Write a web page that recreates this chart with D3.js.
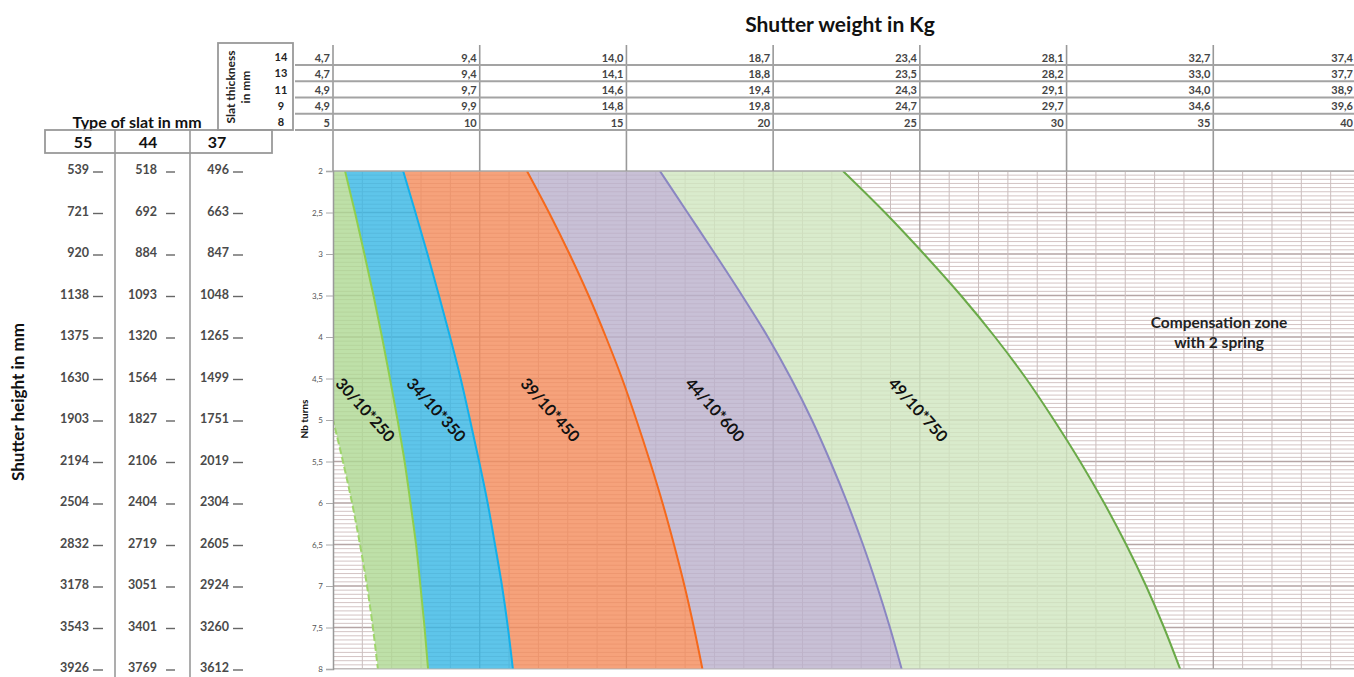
<!DOCTYPE html>
<html><head><meta charset="utf-8">
<script src="https://cdn.jsdelivr.net/npm/d3@7"></script>
<style>
body{margin:0;background:#fff;}
svg{display:block;}
text{font-family:Lato,"Open Sans",sans-serif;}
</style>
</head><body>
<svg id="c" width="1354" height="677"></svg>
<script>
// ---------- data ----------
const turns = [2,2.5,3,3.5,4,4.5,5,5.5,6,6.5,7,7.5,8];
const turnLabels = ["2","2,5","3","3,5","4","4,5","5","5,5","6","6,5","7","7,5","8"];
const slatTypes = ["55","44","37"];
const height55 = [539,721,920,1138,1375,1630,1903,2194,2504,2832,3178,3543,3926];
const height44 = [518,692,884,1093,1320,1564,1827,2106,2404,2719,3051,3401,3769];
const height37 = [496,663,847,1048,1265,1499,1751,2019,2304,2605,2924,3260,3612];
const thicknesses = ["14","13","11","9","8"];
const weightCols = [5,10,15,20,25,30,35,40];
const weight14 = ["4,7","9,4","14,0","18,7","23,4","28,1","32,7","37,4"];
const weight13 = ["4,7","9,4","14,1","18,8","23,5","28,2","33,0","37,7"];
const weight11 = ["4,9","9,7","14,6","19,4","24,3","29,1","34,0","38,9"];
const weight9  = ["4,9","9,9","14,8","19,8","24,7","29,7","34,6","39,6"];
const weight8  = ["5","10","15","20","25","30","35","40"];
const springs = ["30/10*250","34/10*350","39/10*450","44/10*600","49/10*750"];
// boundary curves: shutter weight (kg, 8 mm row) at each number of turns
const boundMin = [2.24,2.79,3.30,3.77,4.22,4.63,5.00,5.34,5.65,5.92,6.16,6.36,6.53];
const bound250 = [5.41,5.75,6.07,6.38,6.67,6.94,7.20,7.44,7.64,7.83,7.98,8.12,8.24];
const bound350 = [7.39,7.81,8.22,8.61,8.99,9.35,9.67,9.98,10.27,10.52,10.76,10.96,11.13];
const bound450 = [11.61,12.36,13.06,13.71,14.30,14.85,15.34,15.80,16.23,16.62,16.98,17.30,17.59];
const bound600 = [16.14,17.08,18.02,18.94,19.82,20.61,21.32,21.95,22.53,23.06,23.54,23.98,24.38];
const bound750 = [22.38,23.81,25.14,26.40,27.56,28.62,29.57,30.46,31.28,32.03,32.71,33.32,33.87];
const labelKg = [6.06,8.48,12.36,17.98,24.9];
const labelTurns = 4.89;

// ---------- styles ----------
const fills   = ["#aed892","#36b7e5","#f48b5a","#bab0cc","#d0e6bf"];
const strokes = ["#8fcf4e","#14b0ea","#f5691c","#8a86c2","#6aaa48"];

const svg = d3.select("#c");
const x = d3.scaleLinear().domain([5,40]).range([333,1360]);
const y = d3.scaleLinear().domain([2,8]).range([171,669]);
const plotL = 333, plotR = 1354, plotT = 171, plotB = 669;

svg.append("defs").append("clipPath").attr("id","clip")
  .append("rect").attr("x",plotL).attr("y",plotT).attr("width",plotR-plotL).attr("height",plotB-plotT);

const bounds = [boundMin,bound250,bound350,bound450,bound600,bound750];
const gPlot = svg.append("g").attr("clip-path","url(#clip)");

// grid (under semi-transparent fills)
const gGrid = gPlot.append("g");
for(let k=0;k<=120;k++){
  const t = 2 + k*0.05;
  const major = k%10===0;
  gGrid.append("line").attr("x1",plotL).attr("x2",plotR).attr("y1",y(t)).attr("y2",y(t))
    .attr("stroke", major? "#b5a5a5":"#d3c4c4")
    .attr("stroke-width", major?1.3:1);
}
for(let kg=6; kg<=40; kg++){
  const major = kg%5===0;
  gGrid.append("line").attr("x1",x(kg)).attr("x2",x(kg)).attr("y1",plotT).attr("y2",plotB)
    .attr("stroke", major? "#a39a9a":"#cbbebe")
    .attr("stroke-width", major?1.3:1);
}

// bands
const area = d3.area().curve(d3.curveMonotoneY)
  .y(d=>y(d.t)).x0(d=>x(d.a)).x1(d=>x(d.b));
for(let i=0;i<5;i++){
  const data = turns.map((t,j)=>({t, a:bounds[i][j], b:bounds[i+1][j]}));
  gPlot.append("path").datum(data).attr("d",area).attr("fill",fills[i]).attr("fill-opacity",0.8);
}

// boundary lines
const line = d3.line().curve(d3.curveMonotoneY).y(d=>y(d.t)).x(d=>x(d.v));
gPlot.append("path").datum(turns.map((t,j)=>({t,v:boundMin[j]})))
  .attr("d",line).attr("fill","none").attr("stroke","#9fd56c").attr("stroke-width",2).attr("stroke-dasharray","7,3");
for(let i=1;i<6;i++){
  gPlot.append("path").datum(turns.map((t,j)=>({t,v:bounds[i][j]})))
    .attr("d",line).attr("fill","none").attr("stroke",strokes[i-1]).attr("stroke-width",2);
}

// spring labels
springs.forEach((s,i)=>{
  svg.append("text").attr("transform",`translate(${x(labelKg[i])},${y(labelTurns)}) rotate(48)`)
    .attr("text-anchor","middle").attr("dominant-baseline","middle")
    .attr("font-size",16).attr("font-weight",700).attr("fill","#111").text(s);
});

// compensation zone text
svg.append("text").attr("x",1219).attr("y",328).attr("text-anchor","middle")
  .attr("font-size",15.5).attr("font-weight",700).attr("fill","#222").text("Compensation zone");
svg.append("text").attr("x",1219).attr("y",348).attr("text-anchor","middle")
  .attr("font-size",15.5).attr("font-weight",700).attr("fill","#222").text("with 2 spring");

// plot frame lines
svg.append("line").attr("x1",plotL).attr("x2",plotR).attr("y1",plotT).attr("y2",plotT).attr("stroke","#aaa").attr("stroke-width",1.5);
svg.append("line").attr("x1",plotL).attr("x2",plotR).attr("y1",plotB).attr("y2",plotB).attr("stroke","#bbb").attr("stroke-width",1);

// y axis (turns)
const yAxis = d3.axisLeft(y).tickValues(turns).tickFormat((d,i)=>turnLabels[i]).tickSize(7).tickPadding(3);
const gy = svg.append("g").attr("transform",`translate(${plotL},0)`).call(yAxis);
gy.select(".domain").attr("stroke","#999").attr("stroke-width",1.5);
gy.selectAll(".tick line").attr("stroke","#aaa");
gy.selectAll(".tick text").attr("font-size",8).attr("fill","#555").attr("font-family","Lato, sans-serif");
svg.append("text").attr("transform","translate(305,419) rotate(-90)").attr("text-anchor","middle")
  .attr("dominant-baseline","middle").attr("font-size",10).attr("font-weight",700).attr("fill","#111").text("Nb turns");

// ---------- header weight table ----------
const rowLines = [65,81.3,97.6,113.8,130];
const weightRows = [weight14,weight13,weight11,weight9,weight8];
weightCols.forEach(c=>{
  if(x(c) > 1354) return;
  svg.append("line").attr("x1",x(c)).attr("x2",x(c)).attr("y1",45).attr("y2",plotT)
    .attr("stroke","#999").attr("stroke-width",1.6);
});
rowLines.forEach(ly=>{
  svg.append("line").attr("x1",295).attr("x2",1354).attr("y1",ly).attr("y2",ly)
    .attr("stroke","#a3a3a3").attr("stroke-width",2);
});
weightRows.forEach((row,r)=>{
  row.forEach((v,c)=>{
    svg.append("text").attr("x",Math.min(x(weightCols[c])-3,1353)).attr("y",rowLines[r]-3.5)
      .attr("text-anchor","end").attr("font-size",11).attr("font-weight",700).attr("fill","#444").text(v);
  });
  svg.append("text").attr("x",281).attr("y",rowLines[r]-4).attr("text-anchor","middle")
    .attr("font-size",11).attr("font-weight",700).attr("fill","#222").text(thicknesses[r]);
});
svg.append("rect").attr("x",218).attr("y",43).attr("width",75).attr("height",87)
  .attr("fill","none").attr("stroke","#999").attr("stroke-width",1.8);
svg.append("text").attr("transform","translate(232,87) rotate(-90)").attr("text-anchor","middle")
  .attr("dominant-baseline","middle").attr("font-size",12).attr("font-weight",700).attr("fill","#222").text("Slat thickness");
svg.append("text").attr("transform","translate(247,87) rotate(-90)").attr("text-anchor","middle")
  .attr("dominant-baseline","middle").attr("font-size",12).attr("font-weight",700).attr("fill","#222").text("in mm");

// title
svg.append("text").attr("x",840).attr("y",32).attr("text-anchor","middle")
  .attr("font-size",21).attr("font-weight",700).attr("fill","#111").text("Shutter weight in Kg");

// ---------- left slat-type table ----------
svg.append("text").attr("x",137).attr("y",128).attr("text-anchor","middle")
  .attr("font-size",16).attr("font-weight",700).attr("fill","#111").text("Type of slat in mm");
svg.append("rect").attr("x",45).attr("y",130).attr("width",227).attr("height",23)
  .attr("fill","none").attr("stroke","#999").attr("stroke-width",1.8);
[115,190].forEach(vx=>{
  svg.append("line").attr("x1",vx).attr("x2",vx).attr("y1",130).attr("y2",677).attr("stroke","#999").attr("stroke-width",1.6);
});
const typeX = [83,148,217];
slatTypes.forEach((s,i)=>{
  svg.append("text").attr("x",typeX[i]).attr("y",148).attr("text-anchor","middle")
    .attr("font-size",16).attr("font-weight",700).attr("fill","#111").text(s);
});
const heightCols = [height55,height44,height37];
const numRight = [89,157,229];
const dashX = [[93,103],[166,175],[233,243]];
heightCols.forEach((col,c)=>{
  col.forEach((v,i)=>{
    const yy = y(turns[i]);
    svg.append("text").attr("x",numRight[c]).attr("y",yy).attr("dominant-baseline","middle")
      .attr("text-anchor","end").attr("font-size",12.5).attr("font-weight",700).attr("fill","#4a4a4a").text(v);
    svg.append("line").attr("x1",dashX[c][0]).attr("x2",dashX[c][1]).attr("y1",yy+1).attr("y2",yy+1)
      .attr("stroke","#666").attr("stroke-width",1.4);
  });
});
svg.append("text").attr("transform","translate(20,402) rotate(-90)").attr("text-anchor","middle")
  .attr("dominant-baseline","middle").attr("font-size",17).attr("font-weight",700).attr("fill","#111").text("Shutter height in mm");
</script>
</body></html>
